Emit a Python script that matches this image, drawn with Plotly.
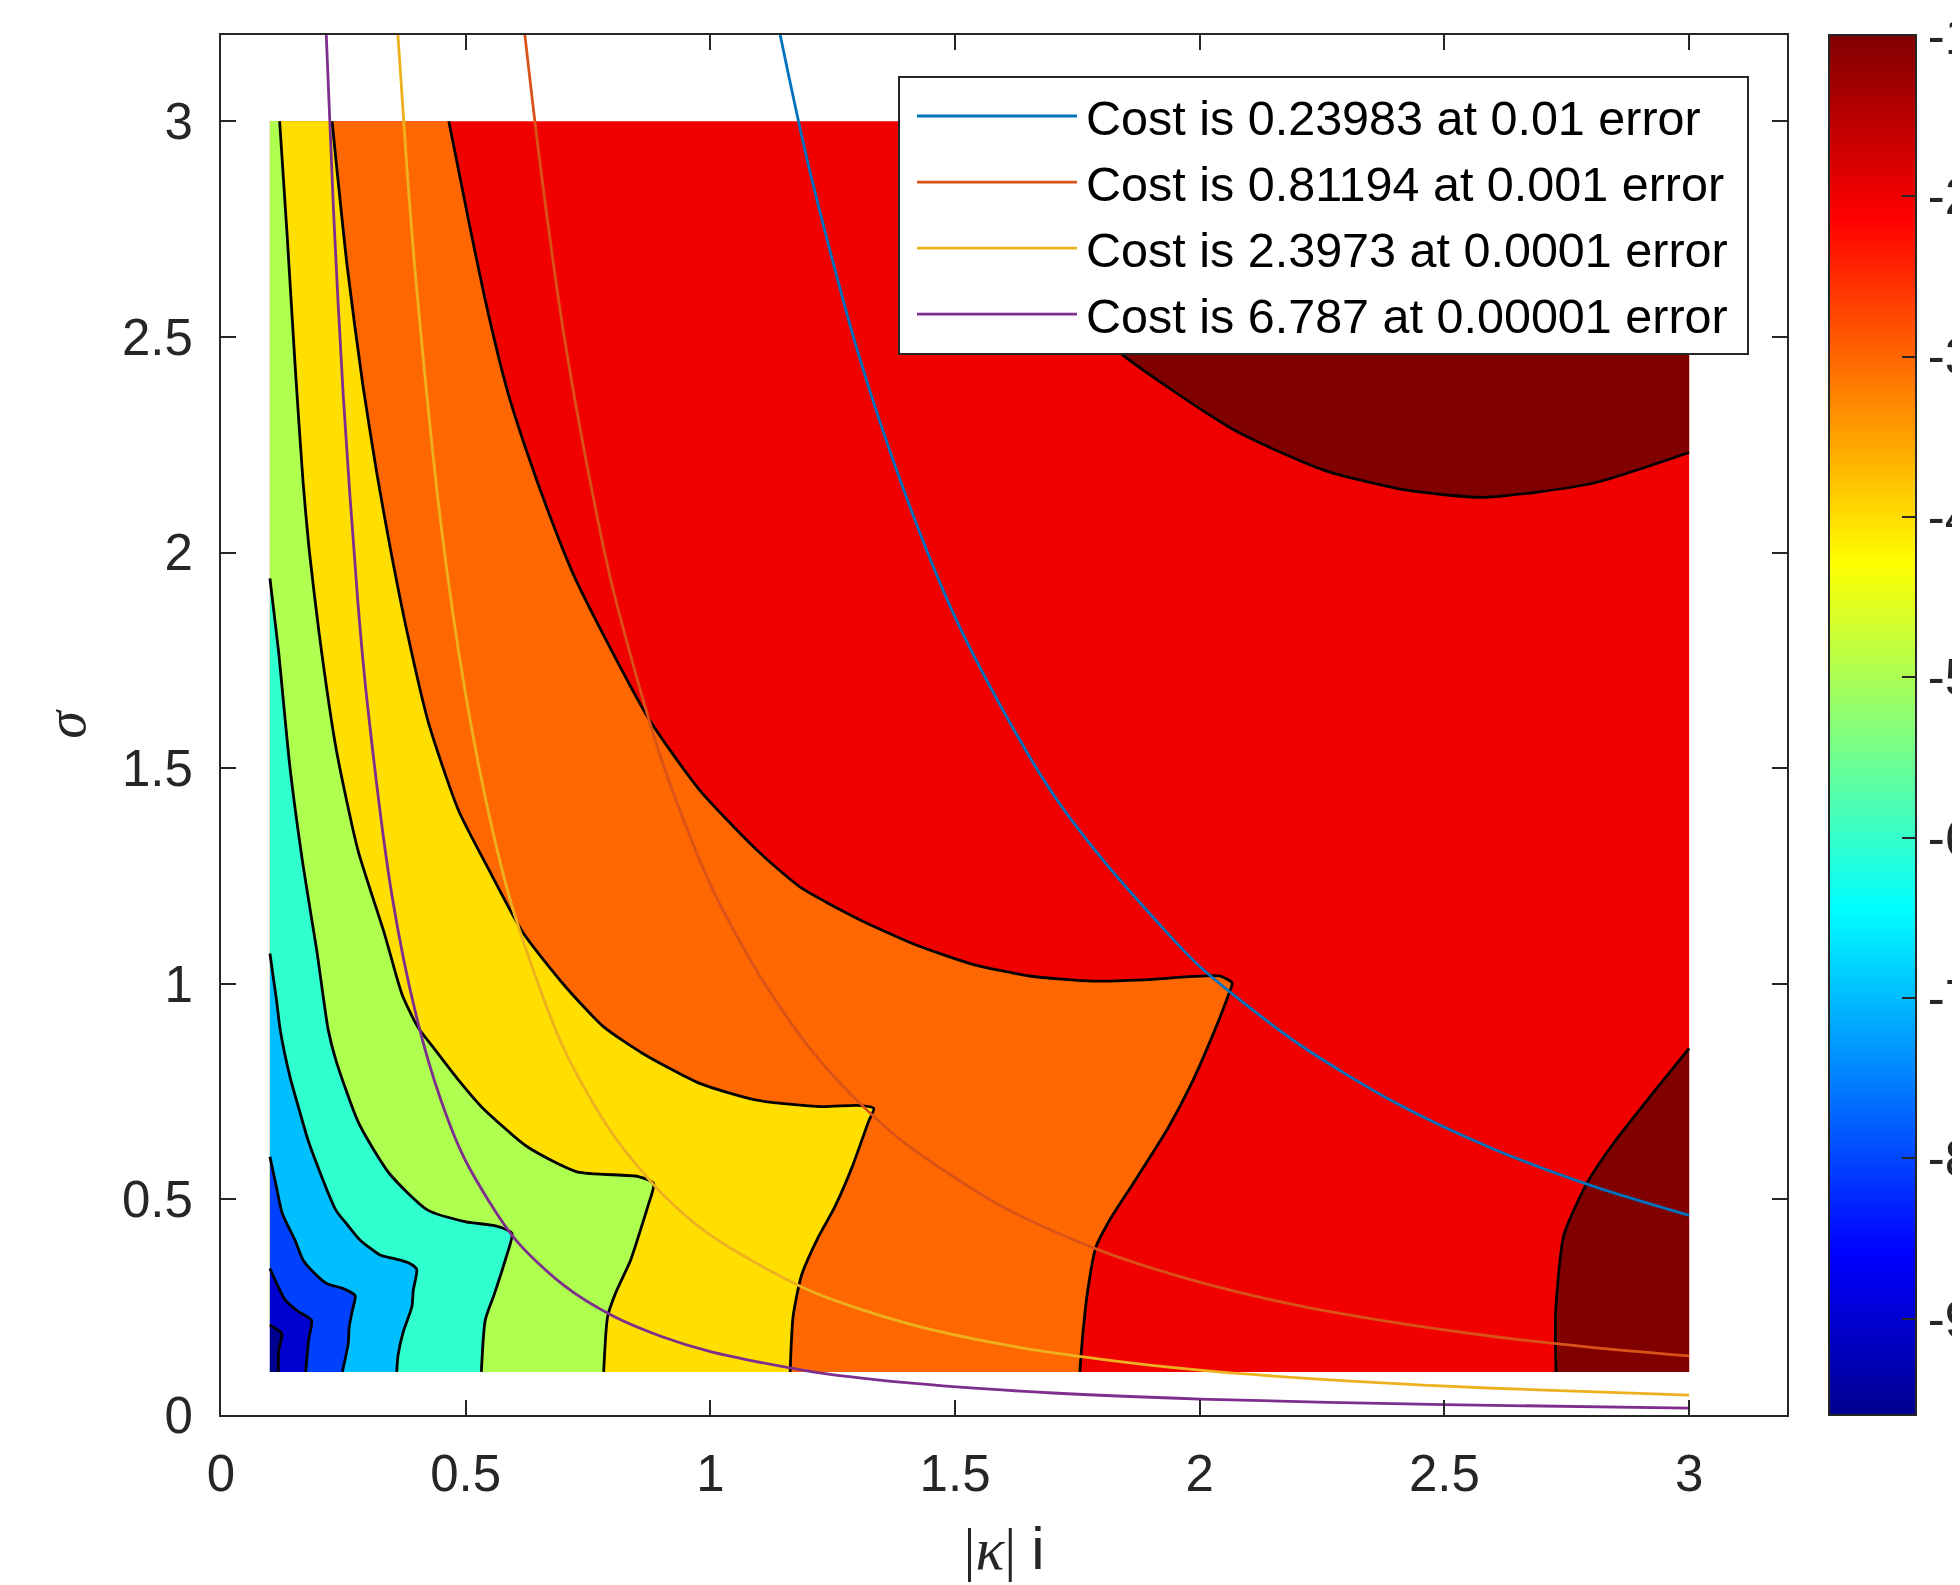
import plotly.graph_objects as go

# ---- data extents of the filled field (|kappa| and sigma) ----
K_MIN, K_MAX = 0.1, 3.0
S_MIN, S_MAX = 0.1, 3.0

# ---- contour level lines: (|kappa|, sigma) ----
lvl_m10 = [(0.1,0.209),(0.124,0.189),(0.118,0.15),(0.117,0.1)]
lvl_m9 = [(0.1,0.34),(0.131,0.267),(0.158,0.24),(0.185,0.22),(0.179,0.174),(0.173,0.1)]
lvl_m8 = [(0.1,0.599),(0.1125,0.533),(0.125,0.468),(0.151,0.406),(0.168,0.359),(0.19,0.33),(0.216,0.305),
          (0.25,0.293),(0.274,0.277),(0.268,0.24),(0.262,0.205),(0.26,0.166),(0.248,0.1)]
lvl_m7 = [(0.1,1.07),(0.1067,1.016),(0.1134,0.962),(0.121,0.893),(0.141,0.784),(0.1605,0.705),(0.18,0.63),
          (0.2347,0.475),(0.259,0.44),(0.284,0.406),(0.325,0.371),(0.352,0.363),(0.385,0.352),(0.40,0.338),
          (0.393,0.29),(0.39,0.251),(0.373,0.195),(0.362,0.14),(0.359,0.1)]
lvl_m6 = [(0.1,1.94),(0.1173,1.774),(0.1408,1.503),(0.1682,1.271),(0.1956,1.078),(0.2191,0.893),(0.2347,0.823),
          (0.2817,0.676),(0.344,0.56),(0.4225,0.475),(0.5006,0.448),(0.563,0.438),(0.5945,0.421),(0.583,0.367),
          (0.559,0.282),(0.540,0.22),(0.532,0.1)]
lvl_m5 = [(0.1198,3.0),(0.1349,2.74),(0.1516,2.431),(0.1679,2.16),(0.1802,2.006),(0.2006,1.812),(0.2357,1.542),
          (0.2798,1.31),(0.3338,1.117),(0.37,0.975),(0.402,0.9),(0.438,0.846),(0.485,0.777),(0.532,0.715),
          (0.626,0.622),(0.7275,0.564),(0.8526,0.553),(0.884,0.537),(0.872,0.483),(0.855,0.421),(0.837,0.359),
          (0.806,0.282),(0.79,0.228),(0.782,0.1)]
lvl_m4 = [(0.2269,3.0),(0.258,2.662),(0.2894,2.392),(0.3185,2.183),(0.3466,2.006),(0.381,1.812),(0.4245,1.603),
          (0.485,1.403),(0.5476,1.264),(0.618,1.117),(0.704,0.993),(0.782,0.9),(0.861,0.839),(0.978,0.769),
          (1.095,0.73),(1.227,0.715),(1.301,0.718),(1.334,0.711),(1.324,0.683),(1.289,0.573),(1.254,0.482),
          (1.219,0.409),(1.186,0.323),(1.169,0.228),(1.163,0.1)]
lvl_m3 = [(0.4655,3.0),(0.5086,2.755),(0.5476,2.547),(0.5867,2.369),(0.626,2.23),(0.6727,2.083),(0.7198,1.95),
          (0.782,1.808),(0.876,1.611),(0.978,1.449),(1.095,1.31),(1.1836,1.224),(1.301,1.151),(1.418,1.091),
          (1.536,1.045),(1.653,1.018),(1.782,1.006),(1.888,1.009),(2.04,1.018),(2.066,1.002),(2.058,0.972),
          (2.028,0.885),(1.982,0.766),(1.935,0.665),(1.864,0.537),(1.817,0.454),(1.788,0.39),(1.770,0.28),
          (1.759,0.161),(1.755,0.1)]
lvl_m2_top = [(1.45,3.0),(1.56,2.8),(1.7,2.6),(1.8516,2.45),(2.0705,2.284),(2.253,2.191),(2.42,2.145),
              (2.5816,2.128),(2.8006,2.160),(3.0,2.232)]
lvl_m2_bottom = [(2.728,0.1),(2.727,0.234),(2.744,0.417),(2.791,0.537),(2.85,0.637),(2.92,0.738),(3.0,0.85)]

# colour of each band (MATLAB jet at the band's level value)
band_colors = {
    '<-10': 'rgb(0,0,143)', '-10..-9': 'rgb(0,0,207)', '-9..-8': 'rgb(0,64,255)', '-8..-7': 'rgb(0,191,255)',
    '-7..-6': 'rgb(48,255,207)', '-6..-5': 'rgb(175,255,80)', '-5..-4': 'rgb(255,223,0)',
    '-4..-3': 'rgb(255,104,0)', '-3..-2': 'rgb(241,0,0)', '>-2': 'rgb(128,0,0)'}

# ---- cost curves ----
blue_k = [1.13,1.2,1.3,1.4,1.5,1.6,1.7,1.8,1.9,2.0,2.2,2.4,2.6,2.8,3.0]
blue_s = [3.27,2.90,2.47,2.13,1.85,1.63,1.44,1.29,1.16,1.04,0.862,0.724,0.617,0.532,0.463]
orange_k = [0.61,0.65,0.7,0.75,0.8,0.9,1.0,1.1,1.2,1.3,1.4,1.6,1.8,2.0,2.2,2.4,2.6,2.8,3.0]
orange_s = [3.31,2.92,2.51,2.19,1.92,1.52,1.23,1.02,0.855,0.729,0.628,0.481,0.380,0.308,0.254,0.214,0.182,0.157,0.137]
yellow_k = [0.355,0.38,0.4,0.45,0.5,0.55,0.6,0.7,0.8,0.9,1.0,1.2,1.4,1.6,1.8,2.0,2.3,2.6,3.0]
yellow_s = [3.31,2.89,2.61,2.06,1.67,1.38,1.16,0.851,0.652,0.515,0.417,0.290,0.213,0.163,0.129,0.104,0.079,0.062,0.046]
purple_k = [0.21,0.23,0.25,0.28,0.3,0.35,0.4,0.45,0.5,0.6,0.7,0.8,0.9,1.0,1.2,1.4,1.7,2.0,2.5,3.0]
purple_s = [3.34,2.79,2.36,1.88,1.64,1.20,0.921,0.728,0.589,0.409,0.301,0.230,0.182,0.147,0.102,0.075,0.051,0.037,0.024,0.016]
cost_names = ['Cost is 0.23983 at 0.01 error', 'Cost is 0.81194 at 0.001 error',
              'Cost is 2.3973 at 0.0001 error', 'Cost is 6.787 at 0.00001 error']
cost_colors = ['#0072BD', '#D95319', '#EDB120', '#7E2F8E']

# colour bar
CB_MIN, CB_MAX = -9.6, -0.995
cb_ticks = [-9, -8, -7, -6, -5, -4, -3, -2, -1]
jet = [[0, 'rgb(0,0,143)'], [0.117, 'rgb(0,0,255)'], [0.367, 'rgb(0,255,255)'],
       [0.617, 'rgb(255,255,0)'], [0.867, 'rgb(255,0,0)'], [1, 'rgb(128,0,0)']]

x_ticks = [0, 0.5, 1, 1.5, 2, 2.5, 3]
x_ticktext = ['0', '0.5', '1', '1.5', '2', '2.5', '3']
y_ticks = x_ticks
y_ticktext = x_ticktext

# ------------------------------------------------------------------
fig = go.Figure()

def add_fill(points, color):
    fig.add_trace(go.Scatter(x=[p[0] for p in points], y=[p[1] for p in points], mode='lines',
                             fill='toself', fillcolor=color, line=dict(width=0, color=color),
                             hoverinfo='skip', showlegend=False))

left_bottom = (K_MIN, S_MIN)
left_top = (K_MIN, S_MAX)
# base band (-3..-2) over the whole field
add_fill([(K_MIN, S_MIN), (K_MAX, S_MIN), (K_MAX, S_MAX), (K_MIN, S_MAX)], band_colors['-3..-2'])
add_fill(lvl_m2_top + [(K_MAX, S_MAX)], band_colors['>-2'])
add_fill(lvl_m2_bottom + [(K_MAX, S_MIN)], band_colors['>-2'])
add_fill([left_top] + lvl_m3 + [left_bottom], band_colors['-4..-3'])
add_fill([left_top] + lvl_m4 + [left_bottom], band_colors['-5..-4'])
add_fill([left_top] + lvl_m5 + [left_bottom], band_colors['-6..-5'])
add_fill(lvl_m6 + [left_bottom], band_colors['-7..-6'])
add_fill(lvl_m7 + [left_bottom], band_colors['-8..-7'])
add_fill(lvl_m8 + [left_bottom], band_colors['-9..-8'])
add_fill(lvl_m9 + [left_bottom], band_colors['-10..-9'])
add_fill(lvl_m10 + [left_bottom], band_colors['<-10'])

for line_pts in [lvl_m10, lvl_m9, lvl_m8, lvl_m7, lvl_m6, lvl_m5, lvl_m4, lvl_m3, lvl_m2_top, lvl_m2_bottom]:
    fig.add_trace(go.Scatter(x=[p[0] for p in line_pts], y=[p[1] for p in line_pts], mode='lines',
                             line=dict(color='black', width=2.8, shape='spline', smoothing=0.6),
                             hoverinfo='skip', showlegend=False))

for xs, ys, nm, col in zip([blue_k, orange_k, yellow_k, purple_k], [blue_s, orange_s, yellow_s, purple_s],
                           cost_names, cost_colors):
    fig.add_trace(go.Scatter(x=xs, y=ys, mode='lines', name='\u200a' + nm + '\u00a0',
                             line=dict(color=col, width=2.8, shape='spline', smoothing=0.8)))

# colour bar (continuous jet)
fig.add_trace(go.Scatter(x=[None, None], y=[None, None], mode='markers', showlegend=False, hoverinfo='skip',
    marker=dict(size=1, opacity=0, color=[CB_MIN, CB_MAX], colorscale=jet, cmin=CB_MIN, cmax=CB_MAX,
                showscale=True,
                colorbar=dict(x=1.0268, xanchor='left', xpad=0, ypad=0, y=0.5, yanchor='middle', len=1,
                              thickness=87, thicknessmode='pixels', outlinewidth=2, outlinecolor='#262626',
                              ticks='inside', ticklen=15, tickwidth=2, tickcolor='#262626',
                              tickvals=cb_ticks, ticktext=[str(t) for t in cb_ticks],
                              ticklabeloverflow='allow',
                              tickfont=dict(size=51, color='#262626', family='Liberation Sans')))))

axis_common = dict(ticks='inside', ticklen=15, tickwidth=2, tickcolor='#262626', showline=True, linewidth=2,
                   linecolor='#262626', mirror='allticks', showgrid=False, zeroline=False,
                   tickfont=dict(size=51, color='#262626', family='Liberation Sans'))
fig.update_xaxes(range=[0, 3.2], tickvals=x_ticks, ticktext=x_ticktext, ticklabelstandoff=13,
                 title=dict(text='|<i>κ</i>| <span style="font-family:Liberation Sans">i</span>',
                            font=dict(size=60, family='Liberation Serif', color='#262626'), standoff=26),
                 **axis_common)
fig.update_yaxes(range=[0, 3.2], tickvals=y_ticks, ticktext=y_ticktext, ticklabelstandoff=16,
                 title=dict(text='<i>σ</i>', font=dict(size=56, family='Liberation Serif', color='#262626'),
                            standoff=18), **axis_common)
fig.update_layout(width=1960, height=1585,
                  margin=dict(l=213, r=181, t=27, b=178, autoexpand=False),
                  paper_bgcolor='white', plot_bgcolor='white',
                  legend=dict(x=0.4323, y=0.9703, xanchor='left', yanchor='top', bgcolor='white',
                              bordercolor='#262626', borderwidth=2, itemwidth=160, indentation=12,
                              font=dict(size=48.5, color='black', family='Liberation Sans')))
fig.write_html("out.html")
